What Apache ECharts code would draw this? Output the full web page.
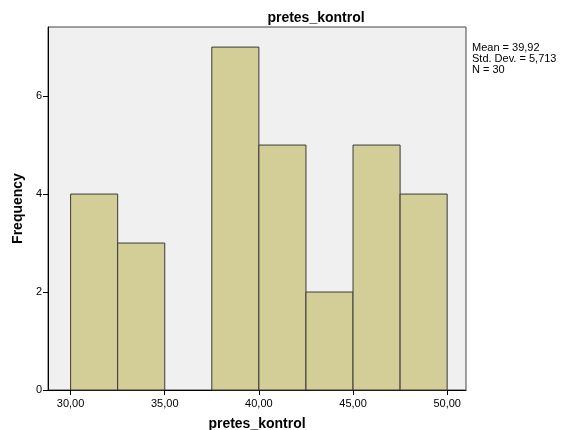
<!DOCTYPE html>
<html>
<head>
<meta charset="utf-8">
<script src="https://cdn.jsdelivr.net/npm/echarts@6/dist/echarts.min.js"></script>
<style>
html,body{margin:0;padding:0;background:#fff;}
#chart{width:561px;height:430px;}
</style>
</head>
<body>
<div id="chart"></div>
<script>
// Histogram bins of pretes_kontrol (bin width 2.5)
const binStarts = [30, 32.5, 35, 37.5, 40, 42.5, 45, 47.5];
const binWidth = 2.5;
const frequencies = [4, 3, 0, 7, 5, 2, 5, 4];
const xTicks = [30, 35, 40, 45, 50];
const yTicks = [0, 2, 4, 6];
const statsLines = ['Mean = 39,92', 'Std. Dev. = 5,713', 'N = 30'];

const bins = binStarts.map((s, i) => [s, s + binWidth, frequencies[i]]);

const chart = echarts.init(document.getElementById('chart'));
chart.setOption({
  animation: false,
  backgroundColor: '#ffffff',
  title: {
    text: 'pretes_kontrol',
    left: 311, top: 6, textAlign: 'center',
    textStyle: {fontFamily: 'Liberation Sans, Arial', fontSize: 14, fontWeight: 'bold', color: '#000'}
  },
  graphic: [{
    type: 'text', left: 472, top: 42,
    style: {
      text: statsLines.join('\n'),
      font: '11px "Liberation Sans", Arial',
      lineHeight: 11, fill: '#000'
    }
  }],
  grid: {left: 48, right: 95, top: 27, bottom: 40, show: true,
         outerBoundsMode: 'none', containLabel: false,
         backgroundColor: '#f0f0f0', borderColor: '#444', borderWidth: 1},
  xAxis: {
    type: 'value', min: 28.8, max: 51.0,
    name: 'pretes_kontrol', nameLocation: 'middle', nameGap: 27,
    nameTextStyle: {fontFamily: 'Liberation Sans, Arial', fontSize: 14, fontWeight: 'bold', color: '#000'},
    axisLine: {show: true, lineStyle: {color: '#000'}},
    axisTick: {show: true, length: 5, lineStyle: {color: '#000'},
               customValues: xTicks},
    axisLabel: {color: '#000', fontFamily: 'Liberation Sans, Arial', fontSize: 11, margin: 8,
                customValues: xTicks,
                formatter: v => v.toFixed(2).replace('.', ',')},
    splitLine: {show: false}
  },
  yAxis: {
    type: 'value', min: 0, max: 7.41,
    name: 'Frequency', nameLocation: 'middle', nameGap: 20, nameRotate: 90,
    nameTextStyle: {fontFamily: 'Liberation Sans, Arial', fontSize: 14, fontWeight: 'bold', color: '#000'},
    axisLine: {show: true, lineStyle: {color: '#000'}},
    axisTick: {show: true, length: 5, lineStyle: {color: '#000'}, customValues: yTicks},
    axisLabel: {color: '#000', fontFamily: 'Liberation Sans, Arial', fontSize: 11, margin: 6,
                customValues: yTicks},
    splitLine: {show: false}
  },
  series: [{
    type: 'custom',
    data: bins,
    encode: {x: [0, 1], y: 2},
    renderItem: function (params, api) {
      if (api.value(2) <= 0) return null;
      const p0 = api.coord([api.value(0), 0]);
      const p1 = api.coord([api.value(1), api.value(2)]);
      return {
        type: 'rect',
        shape: {x: p0[0], y: p1[1], width: p1[0] - p0[0], height: p0[1] - p1[1]},
        style: {fill: '#d3ce97', stroke: '#3a3a3a', lineWidth: 1}
      };
    }
  }]
});
</script>
</body>
</html>
